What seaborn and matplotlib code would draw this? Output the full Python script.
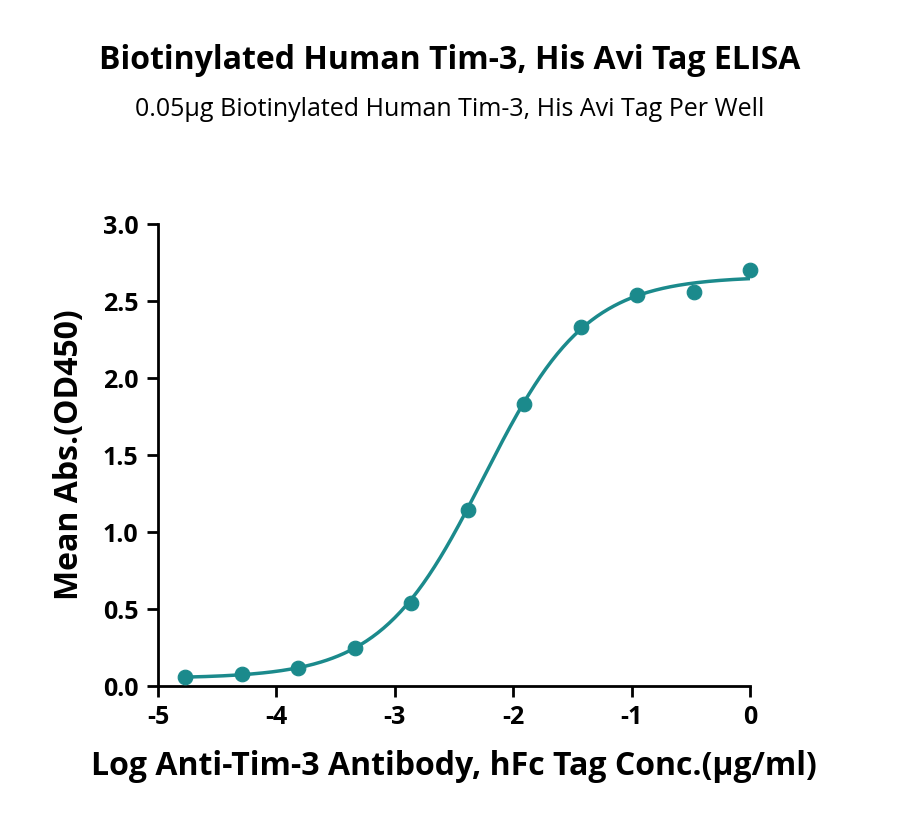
import numpy as np
import matplotlib
matplotlib.use("Agg")
import matplotlib.pyplot as plt
import seaborn as sns
import pandas as pd

log_conc = [-4.771, -4.294, -3.817, -3.340, -2.863, -2.386, -1.908, -1.431, -0.954, -0.477, 0.0]
mean_abs = [0.06, 0.08, 0.12, 0.25, 0.54, 1.14, 1.83, 2.33, 2.54, 2.56, 2.70]
xtick_labels = ["-5", "-4", "-3", "-2", "-1", "0"]
# 4PL fit parameters
bottom, top, logec50, hill = 0.05, 2.66, -2.25, 1.0

sns.set_theme(style="ticks")
plt.rcParams['font.family'] = ['Open Sans', 'DejaVu Sans']
plt.rcParams['text.color'] = 'black'
plt.rcParams['axes.labelcolor'] = 'black'
plt.rcParams['xtick.color'] = 'black'
plt.rcParams['ytick.color'] = 'black'
color = "#1b8a8c"

fig = plt.figure(figsize=(9, 8.4), dpi=100)
ax = fig.add_axes([0.1756, 0.1833, 0.6578, 0.55])
df = pd.DataFrame({"x": log_conc, "y": mean_abs})
xf = np.linspace(-4.771, 0, 300)
yf = bottom + (top - bottom) / (1 + 10 ** ((logec50 - xf) * hill))
sns.lineplot(x=xf, y=yf, ax=ax, color=color, lw=2.5)
sns.scatterplot(data=df, x="x", y="y", ax=ax, color=color, s=110, edgecolor=color, zorder=3, clip_on=False)
ax.set_xlim(-5, 0)
ax.set_ylim(0, 3.0)
ax.set_xticks([-5, -4, -3, -2, -1, 0])
ax.set_xticklabels(xtick_labels)
ax.set_yticks([0, 0.5, 1.0, 1.5, 2.0, 2.5, 3.0])
ax.set_yticklabels(["0.0", "0.5", "1.0", "1.5", "2.0", "2.5", "3.0"])
for s in ["top", "right"]:
    ax.spines[s].set_visible(False)
for s in ["left", "bottom"]:
    ax.spines[s].set_linewidth(2)
    ax.spines[s].set_color("black")
ax.tick_params(width=2, length=8, labelsize=18, color="black", pad=6)
for lab in ax.get_xticklabels() + ax.get_yticklabels():
    lab.set_fontweight("bold")
ax.set_xlabel("Log Anti-Tim-3 Antibody, hFc Tag Conc.(μg/ml)", fontsize=23, fontweight="bold", labelpad=14)
ax.set_ylabel("Mean Abs.(OD450)", fontsize=23, fontweight="bold", labelpad=12)
fig.text(0.5, 0.918, "Biotinylated Human Tim-3, His Avi Tag ELISA", ha="center", fontsize=23, fontweight="bold")
fig.text(0.5, 0.862, "0.05μg Biotinylated Human Tim-3, His Avi Tag Per Well", ha="center", fontsize=18)
fig.savefig("out.png", dpi=100)
